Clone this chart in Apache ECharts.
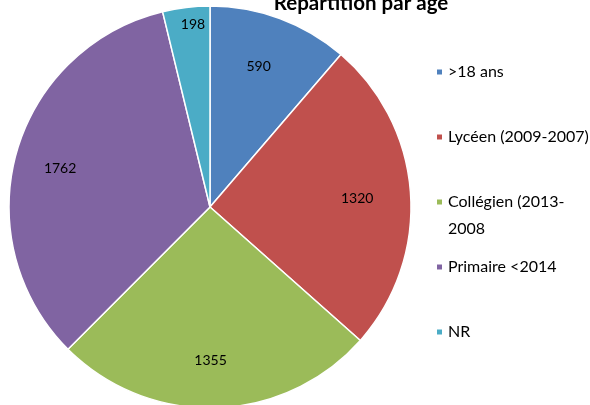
<!DOCTYPE html>
<html>
<head>
<meta charset="utf-8">
<script src="https://cdn.jsdelivr.net/npm/echarts@6/dist/echarts.min.js"></script>
<style>
  html, body { margin: 0; padding: 0; background: #fff; }
  #pie { width: 590px; height: 405px; }
</style>
</head>
<body>
<div id="pie"></div>
<script>
// données
var categories = ['>18 ans', 'Lycéen (2009-2007)', 'Collégien (2013-2008', 'Primaire <2014', 'NR'];
var values = [590, 1320, 1355, 1762, 198];
var colors = ['#4F81BD', '#C0504D', '#9BBB59', '#8064A2', '#4BACC6'];

var chart = echarts.init(document.getElementById('pie'));
var font = 'Lato, "Open Sans", sans-serif';

// une légende par élément, pour placer chaque ligne comme dans l'original
var legendY = [72, 137, 202, 267, 332];
var legends = categories.map(function (name, i) {
    var multi = (i === 2);
    return {
        data: [name],
        orient: 'vertical',
        left: 435,
        top: multi ? legendY[i] - 40.5 : legendY[i] - 9.5,
        padding: 0,
        icon: 'rect',
        itemWidth: 7,
        itemHeight: 7,
        itemGap: 0,
        selectedMode: false,
        formatter: function (n) {
            // ligne vide en tête : l'icône reste en face de la 1re ligne
            return n === 'Collégien (2013-2008' ? '\u00a0\nCollégien (2013-\n2008' : n;
        },
        textStyle: {
            color: '#000',
            fontFamily: font,
            fontSize: 16,
            lineHeight: multi ? 27 : 19
        }
    };
});

var pieData = categories.map(function (name, i) {
    return { name: name, value: values[i], itemStyle: { color: colors[i] } };
});
// étiquettes posées sur un anneau transparent (à ~0.74 du rayon)
var labelData = categories.map(function (name, i) {
    var item = { name: name, value: values[i] };
    if (i === 4) item.label = { offset: [1, -32] };
    return item;
});

var option = {
    animation: false,
    title: {
        text: 'Répartition par âge',
        left: 356,
        textAlign: 'center',
        top: -12,
        textStyle: { fontFamily: font, fontWeight: 'bold', fontSize: 20.5, color: '#000' }
    },
    legend: legends,
    series: [{
        type: 'pie',
        center: [210, 207],
        radius: 201,
        startAngle: 90,
        clockwise: true,
        silent: true,
        label: { show: false },
        labelLine: { show: false },
        itemStyle: { borderColor: '#fff', borderWidth: 1.5 },
        data: pieData
    }, {
        type: 'pie',
        center: [210, 207],
        radius: [96, 201],
        startAngle: 90,
        clockwise: true,
        silent: true,
        itemStyle: { color: 'rgba(0,0,0,0)' },
        label: {
            show: true,
            position: 'inside',
            formatter: '{c}',
            offset: [-4, 2],
            color: '#000',
            fontFamily: font,
            fontSize: 14
        },
        labelLine: { show: false },
        data: labelData
    }]
};
chart.setOption(option);
</script>
</body>
</html>
